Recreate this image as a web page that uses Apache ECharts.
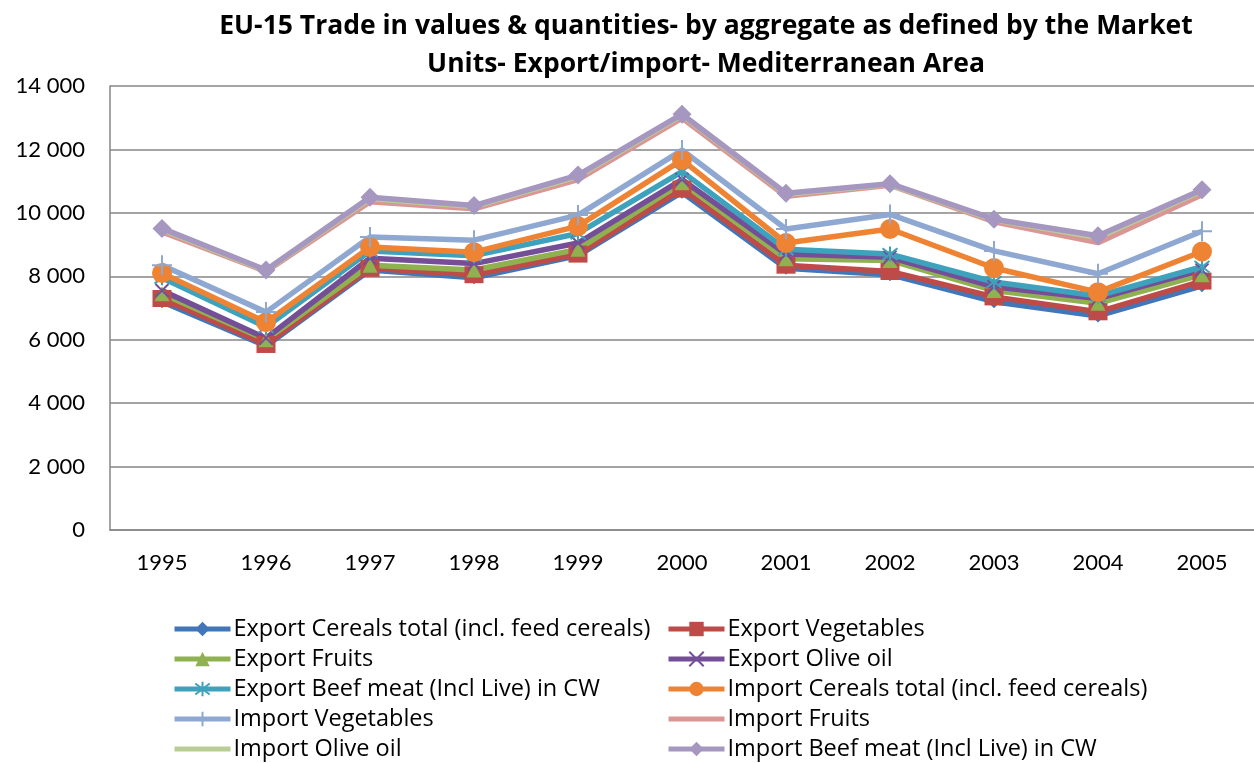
<!DOCTYPE html>
<html>
<head>
<meta charset="utf-8">
<script src="https://cdn.jsdelivr.net/npm/echarts@6/dist/echarts.min.js"></script>
<style>
html,body{margin:0;padding:0;background:#fff;}
#chart{width:1254px;height:763px;}
</style>
</head>
<body>
<div id="chart"></div>
<script>
var years = ['1995','1996','1997','1998','1999','2000','2001','2002','2003','2004','2005'];
var yTicks = [0, 2000, 4000, 6000, 8000, 10000, 12000, 14000];

var exportCereals    = [7200, 5800, 8200, 7950, 8650, 10650, 8250, 8050, 7200, 6750, 7700];
var exportVegetables = [7300, 5850, 8250, 8050, 8700, 10750, 8350, 8150, 7350, 6880, 7850];
var exportFruits     = [7450, 6000, 8350, 8200, 8850, 10950, 8550, 8500, 7550, 7150, 8050];
var exportOliveOil   = [7550, 6050, 8570, 8400, 9050, 11050, 8700, 8600, 7670, 7300, 8200];
var exportBeef       = [7950, 6400, 8800, 8650, 9350, 11300, 8850, 8700, 7820, 7380, 8300];
var importCereals    = [8100, 6550, 8920, 8760, 9580, 11670, 9050, 9490, 8260, 7500, 8780];
var importVegetables = [8350, 6870, 9240, 9140, 9930, 11980, 9490, 9950, 8800, 8080, 9420];
var importFruits     = [9400, 8150, 10350, 10130, 11050, 12990, 10520, 10870, 9720, 9060, 10570];
var importOliveOil   = [9480, 8180, 10450, 10200, 11150, 13080, 10590, 10900, 9780, 9220, 10700];
var importBeef       = [9510, 8200, 10490, 10230, 11190, 13110, 10620, 10920, 9800, 9280, 10730];

var seriesNames = [
  'Export Cereals total (incl. feed cereals)',
  'Export Vegetables',
  'Export Fruits',
  'Export Olive oil',
  'Export Beef meat (Incl Live) in CW',
  'Import Cereals total (incl. feed cereals)',
  'Import Vegetables',
  'Import Fruits',
  'Import Olive oil',
  'Import Beef meat (Incl Live) in CW'
];
var seriesData = [exportCereals, exportVegetables, exportFruits, exportOliveOil, exportBeef,
                  importCereals, importVegetables, importFruits, importOliveOil, importBeef];
var colors = ['#4177B8', '#BE4B48', '#8FB150', '#744F98', '#3FA2BC', '#EE8433',
              '#8EA8D2', '#D99694', '#B9CD96', '#A597C0'];

var X_PATH = 'path://M0,0L10,10M10,0L0,10';
var STAR_PATH = 'path://M0,0L10,10M10,0L0,10M5,-1.5L5,11.5';
var PLUS_PATH = 'path://M5,0L5,10M0,5L10,5';
var LINE_ONLY = 'path://M0,0M56,18M0,6.5L56,6.5L56,11.5L0,11.5Z';
var symbols = [
  {symbol: 'diamond', size: 13},
  {symbol: 'rect', size: [19, 17]},
  {symbol: 'triangle', size: 15},
  {symbol: X_PATH, size: 13, stroke: true},
  {symbol: STAR_PATH, size: 15, stroke: true},
  {symbol: 'circle', size: 20},
  {symbol: PLUS_PATH, size: 20, stroke: true},
  {symbol: 'none', size: 0},
  {symbol: 'none', size: 0},
  {symbol: 'diamond', size: 19}
];

var numFont = 'Lato, "Open Sans", sans-serif';
var textFont = '"Open Sans", Lato, sans-serif';

var series = seriesNames.map(function (name, i) {
  var s = symbols[i];
  var item = {color: colors[i]};
  if (s.stroke) { item.borderColor = colors[i]; item.borderWidth = 2; }
  return {
    name: name,
    type: 'line',
    data: seriesData[i],
    symbol: s.symbol,
    symbolSize: s.size,
    showSymbol: s.symbol !== 'none',
    lineStyle: {width: 5.5, color: colors[i]},
    itemStyle: item,
    emphasis: {disabled: true},
    animation: false
  };
});

function legendItem(i) {
  if (symbols[i].symbol === 'none') {
    return {name: seriesNames[i], icon: LINE_ONLY};
  }
  return {name: seriesNames[i]};
}

var legendCommon = {
  orient: 'vertical', top: 617, height: 160, padding: 0,
  itemWidth: 56, itemHeight: 18, itemGap: 6,
  lineStyle: {width: 5},
  textStyle: {fontSize: 23.5, color: '#000', fontFamily: textFont, lineHeight: 24, padding: [0, 0, 0, -2]},
  selectedMode: false
};

var chart = echarts.init(document.getElementById('chart'), null, {renderer: 'canvas'});
chart.setOption({
  backgroundColor: '#ffffff',
  color: colors,
  textStyle: {fontFamily: textFont},
  title: {
    text: 'EU-15 Trade in values & quantities- by aggregate as defined by the Market\nUnits- Export/import- Mediterranean Area',
    left: 701,
    textAlign: 'center',
    top: 2,
    textStyle: {fontFamily: textFont, fontWeight: 'bold', fontSize: 26.5, color: '#000', lineHeight: 38}
  },
  grid: {left: 110, top: 86, width: 1156, height: 444, containLabel: false},
  xAxis: {
    type: 'category',
    data: years,
    boundaryGap: true,
    axisLine: {show: true, lineStyle: {color: '#868686', width: 1.5}},
    axisTick: {show: false},
    axisLabel: {color: '#000', fontSize: 22, margin: 22, fontFamily: numFont},
    splitLine: {show: false}
  },
  yAxis: {
    type: 'value',
    min: yTicks[0],
    max: yTicks[yTicks.length - 1],
    interval: 2000,
    axisLine: {show: true, lineStyle: {color: '#868686', width: 1.5}},
    axisTick: {show: false},
    axisLabel: {
      color: '#000', fontSize: 22, margin: 25, fontFamily: numFont,
      formatter: function (v) { return String(v).replace(/\B(?=(\d{3})+(?!\d))/g, ' '); }
    },
    splitLine: {show: true, lineStyle: {color: '#868686', width: 1.5}}
  },
  legend: [
    Object.assign({}, legendCommon, {
      left: 172,
      data: [legendItem(0), legendItem(2), legendItem(4), legendItem(6), legendItem(8)]
    }),
    Object.assign({}, legendCommon, {
      left: 666,
      data: [legendItem(1), legendItem(3), legendItem(5), legendItem(7), legendItem(9)]
    })
  ],
  series: series
});
</script>
</body>
</html>
